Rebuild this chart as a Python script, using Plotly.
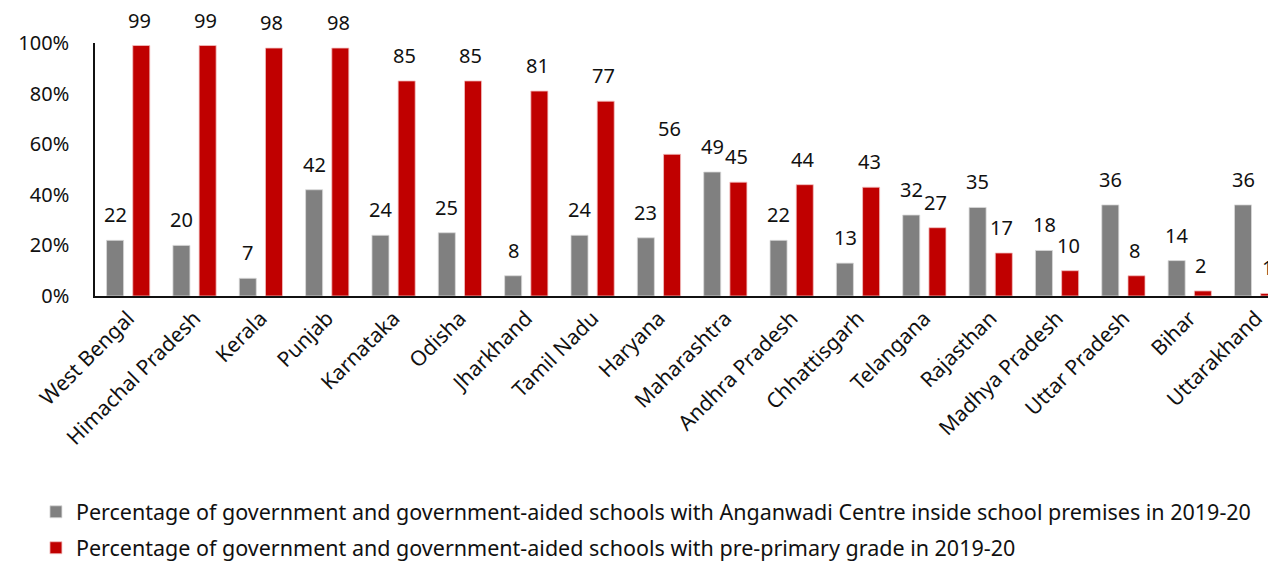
import plotly.graph_objects as go

states = ["West Bengal", "Himachal Pradesh", "Kerala", "Punjab", "Karnataka", "Odisha",
          "Jharkhand", "Tamil Nadu", "Haryana", "Maharashtra", "Andhra Pradesh",
          "Chhattisgarh", "Telangana", "Rajasthan", "Madhya Pradesh", "Uttar Pradesh",
          "Bihar", "Uttarakhand"]
anganwadi = [22, 20, 7, 42, 24, 25, 8, 24, 23, 49, 22, 13, 32, 35, 18, 36, 14, 36]
preprimary = [99, 99, 98, 98, 85, 85, 81, 77, 56, 45, 44, 43, 27, 17, 10, 8, 2, 1]
y_ticks = [0, 20, 40, 60, 80, 100]
y_tick_labels = ["0%", "20%", "40%", "60%", "80%", "100%"]

name_a = "Percentage of government and government-aided schools with Anganwadi Centre inside school premises in 2019-20"
name_p = "Percentage of government and government-aided schools with pre-primary grade in 2019-20"

GRAY = "#808080"
RED = "#C00000"
FONT = "Noto Sans"

fig = go.Figure()
fig.add_trace(go.Bar(x=states, y=anganwadi, name=name_a, marker_color=GRAY, legendgroup="a",
                     marker_line_color="#d9d9d9", marker_line_width=0.8))
fig.add_trace(go.Bar(x=states, y=preprimary, name=name_p, marker_color=RED, legendgroup="p",
                     marker_line_color="#f2c0c0", marker_line_width=0.8))

annotations = []
for s, a, p in zip(states, anganwadi, preprimary):
    for v, shift in ((a, -13), (p, 11)):
        annotations.append(dict(x=s, y=v, xref="x", yref="y", text=str(v),
                                showarrow=False, yanchor="bottom", xanchor="center",
                                xshift=shift, yshift=10,
                                font=dict(family=FONT, size=20, color="#111")))

# page is drawn with an 8px body margin, so the figure is 8px smaller and offset
fig.update_layout(
    width=1268, height=556,
    margin=dict(l=87, r=0, t=35, b=268, autoexpand=False),
    paper_bgcolor="white", plot_bgcolor="white",
    barmode="group", bargap=0.21, bargroupgap=0.35,
    font=dict(family=FONT, size=20, color="#111"),
    annotations=annotations,
    showlegend=True,
    legend=dict(orientation="v", x=-0.050, xanchor="left", y=-0.772, yanchor="top",
                font=dict(family=FONT, size=21.5, color="#111"),
                itemwidth=30, tracegroupgap=5, bgcolor="rgba(0,0,0,0)"),
)
fig.update_xaxes(type="category", range=[-0.5, 17.3], tickangle=-45, automargin=False,
                 showline=True, linecolor="#111", linewidth=1.5, ticks="",
                 showgrid=False, tickfont=dict(family=FONT, size=21, color="#111"))
fig.update_yaxes(range=[0, 100], tickvals=y_ticks, ticktext=y_tick_labels, automargin=False,
                 showline=True, linecolor="#111", linewidth=1.5, ticks="",
                 ticklabelstandoff=20,
                 showgrid=False, zeroline=False,
                 tickfont=dict(family=FONT, size=20, color="#111"))

fig.write_html("out.html")
